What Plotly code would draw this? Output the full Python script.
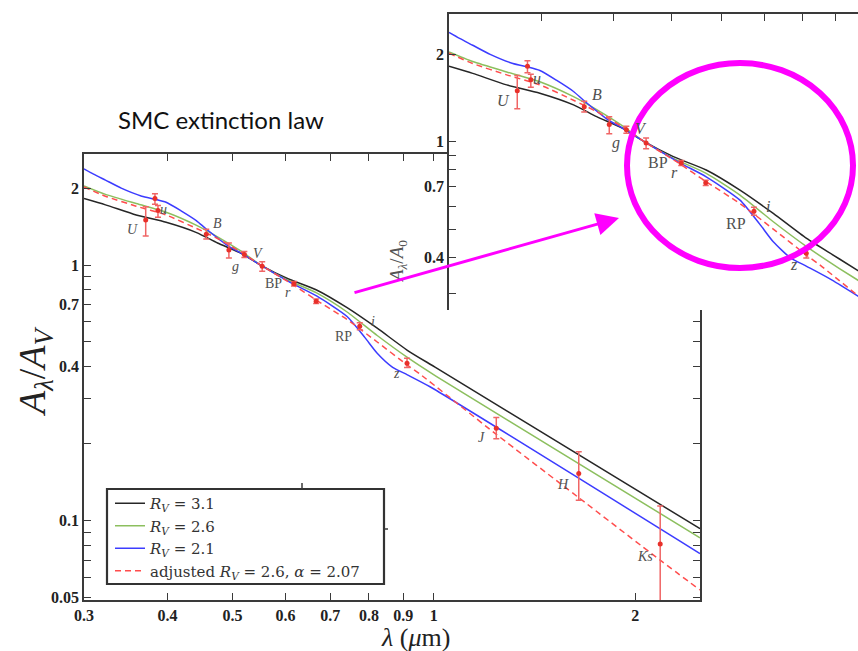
import numpy as np
import plotly.graph_objects as go

# ---- extinction curves, A_lambda / A_V versus wavelength (micron) ----
wl_rv31 = [0.300, 0.323, 0.359, 0.398, 0.442, 0.475, 0.516, 0.551, 0.603, 0.668, 0.742, 0.823, 0.913, 1.01, 2.5]
ext_rv31 = [1.82, 1.72, 1.57, 1.47, 1.34, 1.22, 1.11, 1.00, 0.888, 0.799, 0.681, 0.566, 0.464, 0.395, 0.093]

wl_rv26 = [0.300, 0.323, 0.359, 0.398, 0.442, 0.475, 0.516, 0.551, 0.603, 0.668, 0.742, 0.823, 0.913, 1.01, 2.5]
ext_rv26 = [2.04, 1.89, 1.74, 1.61, 1.43, 1.29, 1.13, 1.00, 0.876, 0.778, 0.655, 0.530, 0.435, 0.366, 0.0856]

wl_rv21 = [0.300, 0.310, 0.323, 0.341, 0.366, 0.383, 0.398, 0.419, 0.442, 0.456, 0.490, 0.516, 0.551,
           0.615, 0.668, 0.742, 0.789, 0.823, 0.868, 0.913, 0.987, 2.5]
ext_rv21 = [2.38, 2.27, 2.15, 2.00, 1.86, 1.81, 1.76, 1.63, 1.49, 1.39, 1.20, 1.11, 1.00,
            0.846, 0.757, 0.629, 0.520, 0.452, 0.398, 0.372, 0.334, 0.0743]

wl_adj = [0.300, 0.323, 0.359, 0.398, 0.442, 0.475, 0.516, 0.551, 0.615, 0.668, 0.742, 0.823, 0.913, 0.954, 1.236, 1.64, 2.18, 2.5]
ext_adj = [2.02, 1.86, 1.70, 1.57, 1.39, 1.27, 1.12, 1.00, 0.840, 0.728, 0.612, 0.500, 0.406, 0.374, 0.219, 0.124, 0.070, 0.0535]

# ---- photometric measurements with error bars ----
pt_wl = [0.371, 0.383, 0.387, 0.457, 0.494, 0.521, 0.554, 0.618, 0.667, 0.775, 0.912, 1.24, 1.647, 2.18]
pt_val = [1.50, 1.82, 1.635, 1.32, 1.146, 1.10, 0.99, 0.845, 0.722, 0.576, 0.413, 0.230, 0.153, 0.081]
pt_hi = [1.69, 1.90, 1.71, 1.38, 1.22, 1.13, 1.03, 0.862, 0.737, 0.594, 0.432, 0.253, 0.186, 0.114]
pt_lo = [1.30, 1.73, 1.54, 1.265, 1.065, 1.07, 0.946, 0.828, 0.707, 0.558, 0.397, 0.209, 0.120, 0.030]

# ---- band labels ----
band_text = ["U", "u", "B", "g", "V", "BP", "r", "RP", "i", "z", "J", "H", "Ks"]
band_wl = [0.355, 0.395, 0.475, 0.505, 0.546, 0.575, 0.606, 0.732, 0.81, 0.879, 1.18, 1.56, 2.07]
band_val = [1.383, 1.655, 1.459, 0.991, 1.114, 0.85, 0.784, 0.523, 0.599, 0.378, 0.211, 0.138, 0.0724]
inset_bands = ["U", "u", "B", "g", "V", "BP", "r", "RP", "i", "z"]

# ---- axis ticks ----
x_ticks = [0.3, 0.4, 0.5, 0.6, 0.7, 0.8, 0.9, 1, 2]
x_labels = ["0.3", "0.4", "0.5", "0.6", "0.7", "0.8", "0.9", "1", "2"]
y_ticks = [0.05, 0.1, 0.4, 0.7, 1, 2]
y_labels = ["0.05", "0.1", "0.4", "0.7", "1", "2"]
y_minor = [0.06, 0.07, 0.08, 0.09, 0.2, 0.3, 0.5, 0.6, 0.8, 0.9]
xi_ticks = [0.4, 0.5, 0.6, 0.7, 0.8, 0.9, 1]
yi_ticks = [0.4, 0.7, 1, 2]
yi_labels = ["0.4", "0.7", "1", "2"]
yi_minor = [0.3, 0.5, 0.6, 0.8, 0.9]

W, H = 858, 651


def px(x):
    return x / W


def py(y):
    return 1 - y / H


SERIF = "Liberation Serif"
AX = "#3a3a3a"

curves = [
    (wl_rv31, ext_rv31, "#262626", "solid", "<i>R<sub>V</sub></i> = 3.1"),
    (wl_rv26, ext_rv26, "#8cbf5e", "solid", "<i>R<sub>V</sub></i> = 2.6"),
    (wl_rv21, ext_rv21, "#3c3cff", "solid", "<i>R<sub>V</sub></i> = 2.1"),
    (wl_adj, ext_adj, "#ff4d4d", "6px,4px", "adjusted <i>R<sub>V</sub></i> = 2.6, <i>α</i> = 2.07"),
]

fig = go.Figure()

for xa, ya, main in [("x", "y", True), ("x2", "y2", False)]:
    for wl, ext, col, dash, name in curves:
        fig.add_trace(go.Scatter(
            x=wl, y=ext, mode="lines", name=name, xaxis=xa, yaxis=ya,
            line=dict(color=col, width=1.5, dash=dash, shape="spline", smoothing=0.6),
            showlegend=main, hoverinfo="skip"))
    fig.add_trace(go.Scatter(
        x=pt_wl, y=pt_val, mode="markers", xaxis=xa, yaxis=ya, showlegend=False,
        marker=dict(color="#e8302a", size=5),
        error_y=dict(type="data", symmetric=False,
                     array=[h - v for h, v in zip(pt_hi, pt_val)],
                     arrayminus=[v - l for v, l in zip(pt_val, pt_lo)],
                     color="#f06565", thickness=1.5, width=3),
        hoverinfo="skip"))

annotations = []


def band_label(t):
    return t if t in ("BP", "RP") else "<i>" + t + "</i>"


for t, wl, v in zip(band_text, band_wl, band_val):
    annotations.append(dict(
        x=np.log10(wl), y=np.log10(v), xref="x", yref="y", text=band_label(t),
        xanchor="center", yanchor="middle",
        showarrow=False, font=dict(family=SERIF, size=14, color="#505050")))
for t, wl, v in zip(band_text, band_wl, band_val):
    if t in inset_bands:
        annotations.append(dict(
            x=np.log10(wl), y=np.log10(v), xref="x2", yref="y2", text=band_label(t),
            xanchor="center", yanchor="middle",
            showarrow=False, font=dict(family=SERIF, size=16, color="#505050")))

paper_txt = dict(xref="paper", yref="paper", showarrow=False, xanchor="center", yanchor="middle")
annotations += [
    dict(x=px(221), y=py(119), text="SMC extinction law",
         font=dict(family="Lato", size=24, color="#111"), **paper_txt),
    dict(x=px(35), y=py(372), textangle=-90,
         text="<i>A<sub>λ</sub></i>/<i>A<sub>V</sub></i>",
         font=dict(family=SERIF, size=38, color="#222"), **paper_txt),
    dict(x=px(415), y=py(637), text="<i>λ</i> (<i>μ</i>m)",
         font=dict(family=SERIF, size=26, color="#222"), **paper_txt),
    dict(x=px(398), y=py(262), textangle=-90,
         text="<i>A<sub>λ</sub></i>/<i>A</i><sub>0</sub>",
         font=dict(family=SERIF, size=19, color="#555"), **paper_txt),
    # magenta pointer towards the zoomed panel
    dict(x=px(619), y=py(218), xref="paper", yref="paper",
         ax=353 - 619, ay=293 - 218, axref="pixel", ayref="pixel", text="",
         showarrow=True, arrowcolor="#ff00ff", arrowwidth=3, arrowhead=2,
         arrowsize=1.5, standoff=0),
]

shapes = [
    # legend frame
    dict(type="rect", xref="paper", yref="paper",
         x0=px(107), x1=px(384), y0=py(584), y1=py(489),
         line=dict(color="#333", width=2.2), layer="above"),
    dict(type="circle", xref="paper", yref="paper",
         x0=px(627), x1=px(853), y0=py(268), y1=py(63),
         line=dict(color="#ff00ff", width=6), layer="above"),
    dict(type="line", xref="paper", yref="paper", x0=px(302), x1=px(302),
         y0=py(483), y1=py(489), line=dict(color=AX, width=1.5)),
    dict(type="line", xref="paper", yref="paper", x0=px(384), x1=px(388),
         y0=py(529), y1=py(529), line=dict(color=AX, width=1.5)),
]

tickfont = dict(family=SERIF, size=16, color="#222", weight="bold")
common = dict(type="log", ticks="inside", ticklen=7, tickwidth=1.3, tickcolor=AX,
              showline=True, linewidth=1.8, linecolor=AX, showgrid=False,
              zeroline=False, tickfont=tickfont, automargin=False)


def minor(vals):
    return dict(tickmode="array", tickvals=vals, ticks="inside", ticklen=7,
                tickwidth=1.3, tickcolor=AX, showgrid=False)


fig.update_layout(
    width=W, height=H, margin=dict(l=0, r=0, t=0, b=0),
    paper_bgcolor="white", plot_bgcolor="white",
    xaxis=dict(domain=[px(84), px(700)], range=[np.log10(0.3), np.log10(2.5)],
               tickvals=x_ticks, ticktext=x_labels, mirror="ticks", anchor="y", **common),
    yaxis=dict(domain=[py(600), py(154)], range=[np.log10(0.0489), np.log10(2.72)],
               tickvals=y_ticks, ticktext=y_labels, minor=minor(y_minor),
               mirror="ticks", anchor="x", **common),
    xaxis2=dict(domain=[px(449), 1.0], range=[np.log10(0.3), np.log10(1.0713)],
                tickvals=xi_ticks, showticklabels=False, side="top", anchor="y2", **common),
    yaxis2=dict(domain=[py(310), py(14)], range=[np.log10(0.263), np.log10(2.756)],
                tickvals=yi_ticks, ticktext=yi_labels, minor=minor(yi_minor),
                anchor="x2", **common),
    legend=dict(x=px(110), y=py(487), xanchor="left", yanchor="top",
                bgcolor="rgba(255,255,255,0)", borderwidth=0,
                font=dict(family="DejaVu Serif", size=15, color="#333"),
                tracegroupgap=0, itemwidth=30),
    annotations=annotations,
    shapes=shapes,
)

fig.write_html("out.html")
